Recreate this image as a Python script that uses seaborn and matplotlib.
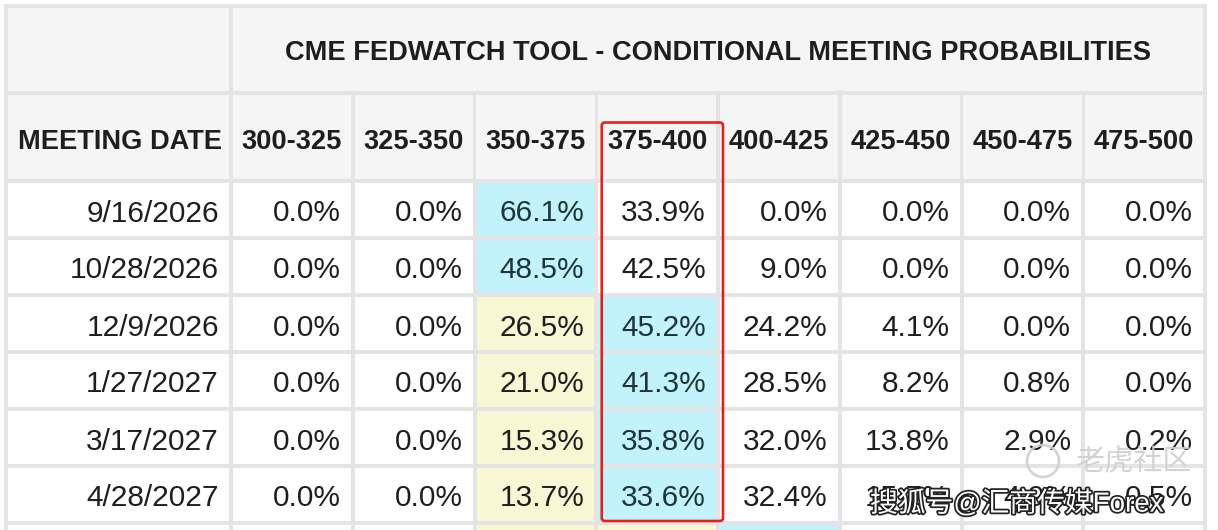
import numpy as np
import pandas as pd
import matplotlib
matplotlib.use('Agg')
import matplotlib.pyplot as plt
import matplotlib.patheffects as pe
from matplotlib.colors import ListedColormap
from matplotlib.patches import Rectangle, FancyBboxPatch, Circle
import seaborn as sns

# ---- data ----
title = 'CME FEDWATCH TOOL - CONDITIONAL MEETING PROBABILITIES'
first_header = 'MEETING DATE'
ranges = ['300-325', '325-350', '350-375', '375-400',
          '400-425', '425-450', '450-475', '475-500']
dates = ['9/16/2026', '10/28/2026', '12/9/2026', '1/27/2027', '3/17/2027', '4/28/2027']

p_300_325 = [0.0, 0.0, 0.0, 0.0, 0.0, 0.0]
p_325_350 = [0.0, 0.0, 0.0, 0.0, 0.0, 0.0]
p_350_375 = [66.1, 48.5, 26.5, 21.0, 15.3, 13.7]
p_375_400 = [33.9, 42.5, 45.2, 41.3, 35.8, 33.6]
p_400_425 = [0.0, 9.0, 24.2, 28.5, 32.0, 32.4]
p_425_450 = [0.0, 0.0, 4.1, 8.2, 13.8, 15.7]
p_450_475 = [0.0, 0.0, 0.0, 0.8, 2.9, 4.9]
p_475_500 = [0.0, 0.0, 0.0, 0.0, 0.2, 0.5]

# cell shading: 0 = none, 1 = blue (highest), 2 = yellow
# the 7th entry is the next row, cut off at the bottom of the picture
hl_350_375 = [1, 1, 2, 2, 2, 2, 2]
hl_375_400 = [0, 0, 1, 1, 1, 1, 2]
hl_400_425 = [0, 0, 0, 0, 0, 0, 1]
hl_none = [0, 0, 0, 0, 0, 0, 0]

boxed_range = '375-400'

probs = pd.DataFrame({
    '300-325': p_300_325, '325-350': p_325_350, '350-375': p_350_375,
    '375-400': p_375_400, '400-425': p_400_425, '425-450': p_425_450,
    '450-475': p_450_475, '475-500': p_475_500}, index=dates)
shade = pd.DataFrame({
    '300-325': hl_none, '325-350': hl_none, '350-375': hl_350_375,
    '375-400': hl_375_400, '400-425': hl_400_425, '425-450': hl_none,
    '450-475': hl_none, '475-500': hl_none})

# ---- style ----
sns.set_theme(style='white')
plt.rcParams['font.family'] = ['Liberation Sans', 'Noto Sans CJK SC', 'DejaVu Sans']

W, H = 1218, 530
grid_c = '#e4e4e4'
head_c = '#f5f5f5'
blue_c = '#c3f3fa'
yellow_c = '#f8f7d3'
text_c = '#1e1e1e'
gap = 3.5                      # px
fs_head = 19.6
fs_body = 21.5

x_left, x_date = 6, 231        # first column edges (px)
x_right = 1205
y_top, y_head, y_body = 6, 93, 181
row_h = 57

fig = plt.figure(figsize=(W / 100, H / 100), dpi=100)
fig.patch.set_facecolor('white')

bg = fig.add_axes([0, 0, 1, 1])
bg.set_xlim(0, W)
bg.set_ylim(H, 0)
bg.axis('off')

col_w = (x_right - x_date) / len(ranges)

# grey backing that shows through as the cell borders
bg.add_patch(Rectangle((x_left - gap / 2, y_top - gap / 2),
                       x_right - x_left + gap, H, color=grid_c, lw=0))


def cell(x0, y0, x1, y1, fc):
    bg.add_patch(Rectangle((x0 + gap / 2, y0 + gap / 2), x1 - x0 - gap, y1 - y0 - gap,
                           facecolor=fc, lw=0))


# title row
cell(x_left, y_top, x_date, y_head, head_c)
cell(x_date, y_top, x_right, y_head, head_c)
bg.text((x_date + x_right) / 2, (y_top + y_head) / 2 + 4, title, ha='center', va='center',
        fontsize=fs_head, fontweight='bold', color=text_c)

# header row
cell(x_left, y_head, x_date, y_body, head_c)
bg.text((x_left + x_date) / 2 + 1, (y_head + y_body) / 2 + 5, first_header, ha='center',
        va='center', fontsize=fs_head, fontweight='bold', color=text_c)
for k, r in enumerate(ranges):
    x0 = x_date + k * col_w
    cell(x0, y_head, x0 + col_w, y_body, head_c)
    bg.text(x0 + col_w / 2, (y_head + y_body) / 2 + 5, r, ha='center', va='center',
            fontsize=fs_head, fontweight='bold', color=text_c)

# date column
for i in range(len(shade)):
    y0 = y_body + i * row_h
    cell(x_left, y0, x_date, y0 + row_h, 'white')
for i, d in enumerate(dates):
    y0 = y_body + i * row_h
    bg.text(x_date - 12, y0 + row_h / 2 + 4, d, ha='right', va='center',
            fontsize=fs_body, color=text_c)

# probability body as a seaborn heatmap
n_rows = len(shade)
body_h = n_rows * row_h
ax = fig.add_axes([x_date / W, 1 - (y_body + body_h) / H,
                   (x_right - x_date) / W, body_h / H])
sns.heatmap(shade, ax=ax, cmap=ListedColormap(['white', blue_c, yellow_c]),
            vmin=-0.5, vmax=2.5, cbar=False, linewidths=gap * 0.72, linecolor=grid_c,
            xticklabels=False, yticklabels=False)
ax.set_xlabel('')
ax.set_ylabel('')
pad = 12 / col_w
for i in range(len(probs)):
    for j, r in enumerate(ranges):
        v = probs.iloc[i, j]
        ax.text(j + 1 - pad, i + 0.5 + 4 / row_h, f'{v:.1f}%', ha='right', va='center',
                fontsize=fs_body, color='#1d3539' if shade.iloc[i, j] == 1 else text_c)

# overlay for the red box and the watermarks, drawn above the heatmap
top = fig.add_axes([0, 0, 1, 1], zorder=10)
top.set_xlim(0, W)
top.set_ylim(H, 0)
top.axis('off')
top.patch.set_alpha(0)

jb = ranges.index(boxed_range)
bx0 = x_date + jb * col_w + 5.5
top.add_patch(FancyBboxPatch((bx0, 122.5), col_w - 0.5, 398.5,
                             boxstyle='round,pad=0,rounding_size=3',
                             fill=False, edgecolor='#e3221c', lw=1.9))

top.add_patch(Circle((1043, 461), 16, fill=False, edgecolor='#d0d0d0', lw=2, alpha=0.9))
top.text(1075, 462, '老虎社区', ha='left', va='center', fontsize=21, color='#cfcfcf',
         alpha=0.9)
top.text(870, 504, '搜狐号@汇商传媒Forex', ha='left', va='center', fontsize=20,
         color='white',
         path_effects=[pe.withStroke(linewidth=2.5, foreground='#222222')])

fig.savefig('out.png', dpi=100)
